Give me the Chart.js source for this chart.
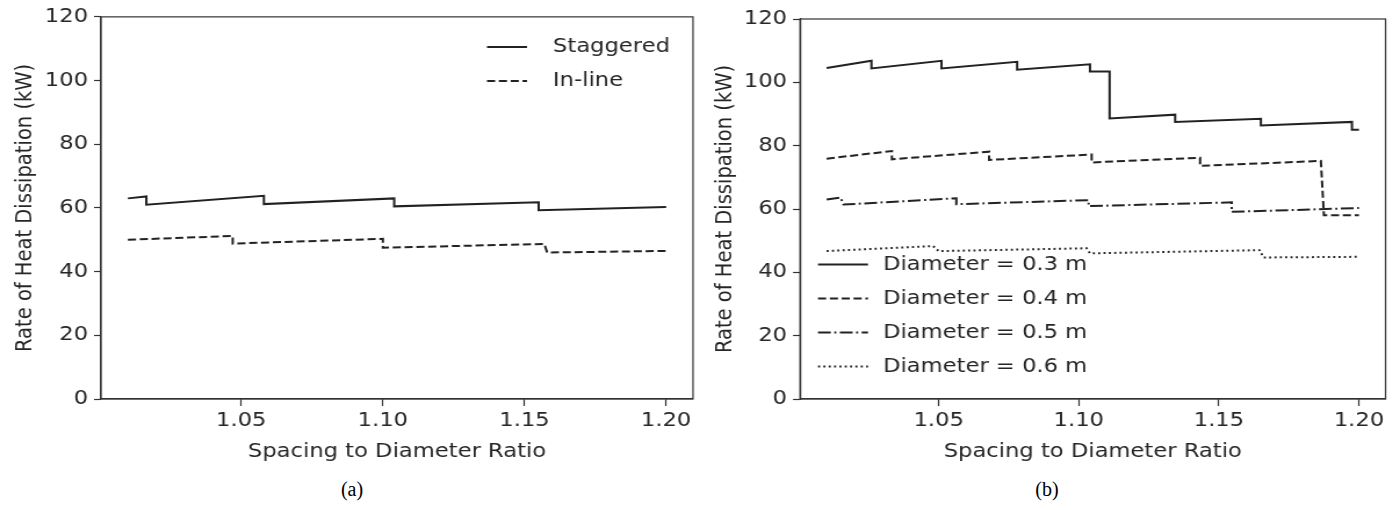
<!DOCTYPE html>
<html>
<head>
<meta charset="utf-8">
<script src="https://cdn.jsdelivr.net/npm/chart.js@4.4.0/dist/chart.umd.min.js"></script>
<style>
body{margin:0;background:#fff;width:1399px;height:510px;position:relative;overflow:hidden}
canvas{position:absolute;top:0;transform-origin:0 0}
.cap{position:absolute;top:478px;transform:translateX(-50%);font-family:"Liberation Serif","Times New Roman",serif;font-size:20px;color:#000}
</style>
</head>
<body>
<canvas id="chartA" width="603" height="470" style="left:0"></canvas>
<canvas id="chartB" width="602" height="470" style="left:700px"></canvas>
<div class="cap" style="left:352px">(a)</div>
<div class="cap" style="left:1047px">(b)</div>
<script>
// tick labels
var xTicks = [1.05, 1.10, 1.15, 1.20]
var yTicks = [0, 20, 40, 60, 80, 100, 120]

// (a) staggered vs in-line
var stagX = [1.010, 1.0165, 1.0165, 1.058, 1.058, 1.104, 1.104, 1.155, 1.155, 1.200]
var stagY = [63.0, 63.6, 61.0, 63.8, 61.2, 63.0, 60.5, 61.8, 59.3, 60.3]
var inlineX = [1.010, 1.047, 1.047, 1.100, 1.100, 1.157, 1.158, 1.200]
var inlineY = [50.0, 51.2, 48.8, 50.3, 47.5, 48.7, 46.0, 46.5]

// (b) diameters
var d3X = [1.010, 1.026, 1.026, 1.051, 1.051, 1.078, 1.078, 1.104, 1.104, 1.111, 1.111, 1.1344, 1.1344, 1.165, 1.165, 1.1975, 1.1975, 1.200]
var d3Y = [104.5, 106.8, 104.4, 106.8, 104.4, 106.5, 104.0, 105.7, 103.4, 103.4, 88.6, 89.8, 87.5, 88.5, 86.4, 87.5, 85.0, 85.0]
var d4X = [1.010, 1.0333, 1.0333, 1.068, 1.068, 1.1046, 1.1046, 1.1433, 1.1433, 1.1864, 1.1875, 1.200]
var d4Y = [75.9, 78.3, 75.7, 78.1, 75.5, 77.2, 74.7, 76.2, 73.6, 75.2, 58.0, 58.0]
var d5X = [1.010, 1.015, 1.016, 1.0563, 1.0563, 1.1035, 1.1035, 1.1546, 1.1546, 1.200]
var d5Y = [63.0, 63.6, 61.4, 63.4, 61.5, 62.8, 60.9, 62.1, 59.1, 60.3]
var d6X = [1.010, 1.048, 1.050, 1.1028, 1.104, 1.1645, 1.166, 1.200]
var d6Y = [46.7, 48.3, 46.7, 47.6, 46.0, 47.0, 44.7, 44.9]

// the reference figure is stretched sideways, so each canvas is drawn narrow and widened
var K = 1.1609
var FONT = {family: "'DejaVu Sans'", size: 19.5}
var TXT = '#262626'
var INK = '#222'

document.getElementById('chartA').style.transform = 'scaleX(' + K + ')'
document.getElementById('chartB').style.transform = 'scaleX(' + K + ')'

function pts(xs, ys){
    return xs.map(function(x, i){ return {x: x, y: ys[i]} })
}

function line(label, xs, ys, dash){
    return {label: label, data: pts(xs, ys), borderColor: INK, borderWidth: 2,
        borderDash: dash, pointRadius: 0, fill: false, tension: 0}
}

// box round the plot, like matplotlib spines
var frame = {
    id: 'frame',
    afterDraw: function(chart){
        var a = chart.chartArea, ctx = chart.ctx
        ctx.save()
        ctx.strokeStyle = '#333'
        ctx.lineWidth = 1.2
        ctx.strokeRect(a.left, a.top, a.right - a.left, a.bottom - a.top)
        ctx.restore()
    }
}

var lineLegend = {
    id: 'lineLegend',
    afterDraw: function(chart, args, o){
        var ctx = chart.ctx
        ctx.save()
        chart.data.datasets.forEach(function(ds, i){
            var y = o.y + i * o.gap
            ctx.strokeStyle = ds.borderColor
            ctx.lineWidth = ds.borderWidth
            ctx.setLineDash(ds.borderDash || [])
            ctx.beginPath()
            ctx.moveTo(o.x / K, y)
            ctx.lineTo((o.x + o.len) / K, y)
            ctx.stroke()
            ctx.setLineDash([])
            ctx.fillStyle = TXT
            ctx.font = FONT.size + 'px ' + FONT.family
            ctx.textBaseline = 'middle'
            ctx.fillText(ds.label, o.tx / K, y)
        })
        ctx.restore()
    }
}

function scales(yWidth){
    return {
        x: {
            type: 'linear', min: 1.0005, max: 1.2095,
            afterBuildTicks: function(s){ s.ticks = xTicks.map(function(v){ return {value: v} }) },
            afterFit: function(s){ s.height = 71 },
            ticks: {callback: function(v){ return v.toFixed(2) }, font: FONT, color: TXT, padding: 3, maxRotation: 0},
            grid: {drawOnChartArea: false, tickLength: 7, color: '#333', tickWidth: 1.2},
            border: {color: '#333', width: 1.2},
            title: {display: true, text: 'Spacing to Diameter Ratio', font: FONT, color: TXT, padding: {top: 0, bottom: 6}}
        },
        y: {
            min: 0, max: 120,
            afterBuildTicks: function(s){ s.ticks = yTicks.map(function(v){ return {value: v} }) },
            afterFit: function(s){ s.width = yWidth / K },
            ticks: {font: FONT, color: TXT, padding: 6 / K},
            grid: {drawOnChartArea: false, tickLength: 7 / K, color: '#333', tickWidth: 1.2},
            border: {color: '#333', width: 1.2},
            title: {display: true, text: 'Rate of Heat Dissipation (kW)', font: FONT, color: TXT, padding: {top: 12 / K, bottom: 0}}
        }
    }
}

new Chart(document.getElementById('chartA'), {
    type: 'line',
    data: {datasets: [
        line('Staggered', stagX, stagY, []),
        line('In-line', inlineX, inlineY, [7, 3.2])
    ]},
    options: {
        responsive: false, animation: false,
        layout: {padding: {left: 0, right: 7 / K, top: 14, bottom: 0}},
        scales: scales(101),
        plugins: {legend: {display: false}, tooltip: {enabled: false},
            lineLegend: {x: 487, y: 47, gap: 34, len: 40, tx: 553}}
    },
    plugins: [frame, lineLegend]
})

new Chart(document.getElementById('chartB'), {
    type: 'line',
    data: {datasets: [
        line('Diameter = 0.3 m', d3X, d3Y, []),
        line('Diameter = 0.4 m', d4X, d4Y, [7, 3.2]),
        line('Diameter = 0.5 m', d5X, d5Y, [11, 3, 1.8, 3]),
        line('Diameter = 0.6 m', d6X, d6Y, [1.8, 2.8])
    ]},
    options: {
        responsive: false, animation: false,
        layout: {padding: {left: 0, right: 13.3 / K, top: 19, bottom: 0}},
        scales: scales(100),
        plugins: {legend: {display: false}, tooltip: {enabled: false},
            lineLegend: {x: 118, y: 264.5, gap: 34, len: 50, tx: 183}}
    },
    plugins: [frame, lineLegend]
})
</script>
</body>
</html>
